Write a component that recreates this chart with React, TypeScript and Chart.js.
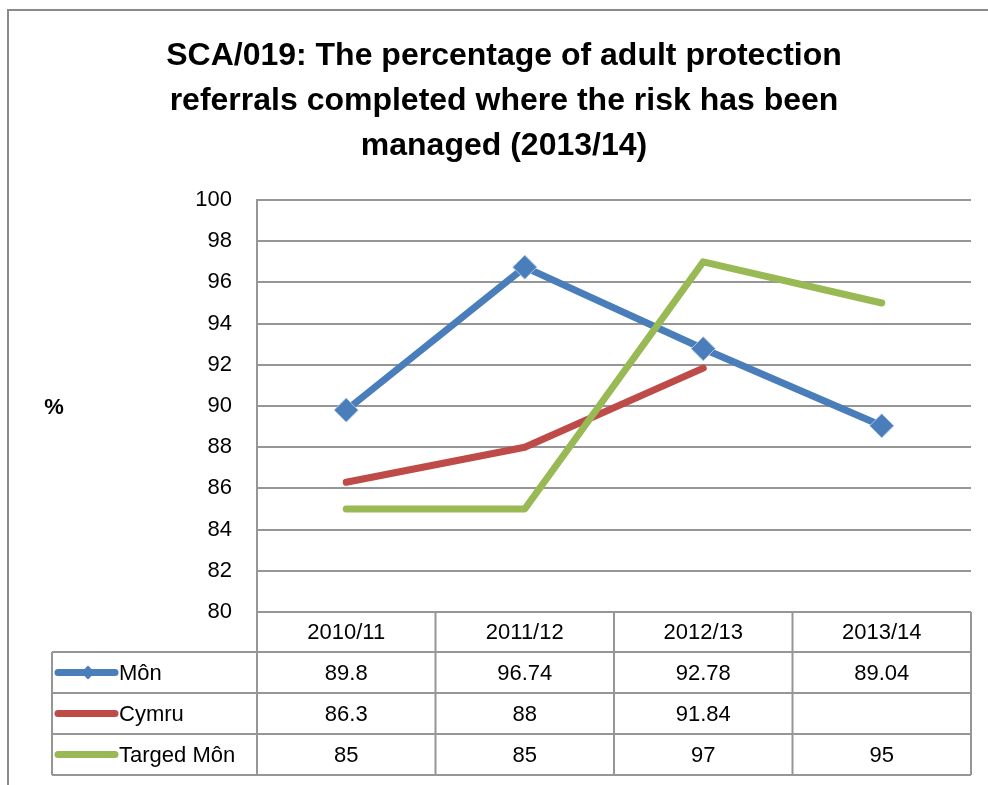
import React, { useEffect, useRef } from 'react';
import { Chart, registerables } from 'chart.js';

Chart.register(...registerables);

const categories = ['2010/11', '2011/12', '2012/13', '2013/14'];
const monValues = [89.8, 96.74, 92.78, 89.04];
const cymruValues: (number | null)[] = [86.3, 88, 91.84, null];
const targetValues = [85, 85, 97, 95];
const seriesNames = ['Môn', 'Cymru', 'Targed Môn'];
const seriesColors = ['#4A7EBB', '#BE4B48', '#98B954'];
const titleLines = [
  'SCA/019: The percentage of adult protection',
  'referrals completed where the risk has been',
  'managed (2013/14)',
];
const yTitle = '%';
const yMin = 80;
const yMax = 100;
const yStep = 2;

const FONT = "'Liberation Sans', Arial, sans-serif";
const GRID = '#969696';

const tablePlugin = {
  id: 'dataTable',
  beforeDraw(chart: any) {
    const ctx = chart.ctx;
    ctx.save();
    ctx.fillStyle = '#ffffff';
    ctx.fillRect(0, 0, chart.width, chart.height);
    ctx.strokeStyle = '#8a8a8a';
    ctx.lineWidth = 2;
    ctx.beginPath();
    ctx.moveTo(8, chart.height);
    ctx.lineTo(8, 10);
    ctx.lineTo(chart.width, 10);
    ctx.stroke();
    ctx.restore();
  },
  afterDraw(chart: any) {
    const ctx = chart.ctx;
    const xs = chart.scales.x;
    const area = chart.chartArea;
    const n = categories.length;
    const colW = (area.right - area.left) / n;
    const headerTop = area.bottom;
    const headerBottom = xs.bottom;
    const rowH = 41;
    const tableLeft = 52;
    const rows = [monValues, cymruValues, targetValues];
    const tableBottom = headerBottom + rowH * rows.length;

    ctx.save();
    ctx.strokeStyle = GRID;
    ctx.lineWidth = 2;
    ctx.beginPath();
    for (let r = 0; r <= rows.length; r++) {
      const y = headerBottom + r * rowH;
      ctx.moveTo(tableLeft, y);
      ctx.lineTo(area.right, y);
    }
    ctx.moveTo(tableLeft, headerBottom);
    ctx.lineTo(tableLeft, tableBottom);
    for (let i = 0; i <= n; i++) {
      const xb = area.left + i * colW;
      ctx.moveTo(xb, headerTop);
      ctx.lineTo(xb, tableBottom);
    }
    ctx.stroke();

    ctx.font = `22px ${FONT}`;
    ctx.textBaseline = 'middle';
    rows.forEach((vals, r) => {
      const cy = headerBottom + r * rowH + rowH / 2;
      // legend key
      ctx.strokeStyle = seriesColors[r];
      ctx.lineWidth = 7;
      ctx.lineCap = 'round';
      ctx.beginPath();
      ctx.moveTo(58, cy);
      ctx.lineTo(115, cy);
      ctx.stroke();
      if (r === 0) {
        ctx.fillStyle = seriesColors[r];
        ctx.beginPath();
        ctx.moveTo(88, cy - 7);
        ctx.lineTo(95, cy);
        ctx.lineTo(88, cy + 7);
        ctx.lineTo(81, cy);
        ctx.closePath();
        ctx.fill();
      }
      ctx.fillStyle = '#000';
      ctx.textAlign = 'left';
      ctx.fillText(seriesNames[r], 119, cy + 1);
      ctx.textAlign = 'center';
      vals.forEach((v, i) => {
        if (v === null || v === undefined) return;
        ctx.fillText(String(v), xs.getPixelForValue(i), cy + 1);
      });
    });

    ctx.font = `bold 22px ${FONT}`;
    ctx.textAlign = 'center';
    ctx.fillStyle = '#000';
    ctx.fillText(yTitle, 54, 408);
    ctx.restore();
  },
};

export default function App() {
  const ref = useRef<HTMLCanvasElement | null>(null);
  useEffect(() => {
    if (!ref.current) return;
    const chart = new Chart(ref.current, {
      type: 'line',
      data: {
        labels: categories,
        datasets: [
          {
            label: seriesNames[0],
            data: monValues,
            borderColor: seriesColors[0],
            backgroundColor: seriesColors[0],
            borderWidth: 7,
            pointStyle: 'rectRot',
            pointRadius: 12,
            pointBackgroundColor: seriesColors[0],
            pointBorderColor: '#A9C4E8',
            pointBorderWidth: 1,
            borderCapStyle: 'round',
            borderJoinStyle: 'round',
            order: 3,
          },
          {
            label: seriesNames[1],
            data: cymruValues,
            borderColor: seriesColors[1],
            backgroundColor: seriesColors[1],
            borderWidth: 7,
            pointRadius: 0,
            borderCapStyle: 'round',
            borderJoinStyle: 'round',
            order: 2,
          },
          {
            label: seriesNames[2],
            data: targetValues,
            borderColor: seriesColors[2],
            backgroundColor: seriesColors[2],
            borderWidth: 7,
            pointRadius: 0,
            borderCapStyle: 'round',
            borderJoinStyle: 'round',
            order: 1,
          },
        ],
      },
      options: {
        responsive: false,
        animation: false,
        devicePixelRatio: 1,
        layout: { padding: { left: 37, right: 17, top: 0, bottom: 133 } },
        plugins: {
          legend: { display: false },
          tooltip: { enabled: false },
          title: {
            display: true,
            text: titleLines,
            color: '#000',
            font: { family: FONT, size: 32, weight: 'bold', lineHeight: 45 / 32 },
            padding: { top: 34, bottom: 31 },
          },
        },
        scales: {
          x: {
            offset: true,
            grid: { display: false, offset: true },
            border: { display: false },
            ticks: { color: '#000', font: { family: FONT, size: 22 }, padding: 0, maxRotation: 0 },
            afterFit: (s: any) => {
              s.height = 40;
            },
          },
          y: {
            min: yMin,
            max: yMax,
            ticks: { stepSize: yStep, color: '#000', font: { family: FONT, size: 22 }, padding: 25 },
            grid: { color: GRID, lineWidth: 2, drawTicks: false },
            border: { display: true, color: GRID, width: 2 },
            afterFit: (s: any) => {
              s.width = 220;
            },
          },
        },
      },
      plugins: [tablePlugin],
    } as any);
    return () => chart.destroy();
  }, []);
  return (
    <div style={{ position: 'absolute', left: 0, top: 0, width: 988, height: 785 }}>
      <canvas ref={ref} width={988} height={785} style={{ display: 'block' }} />
    </div>
  );
}
